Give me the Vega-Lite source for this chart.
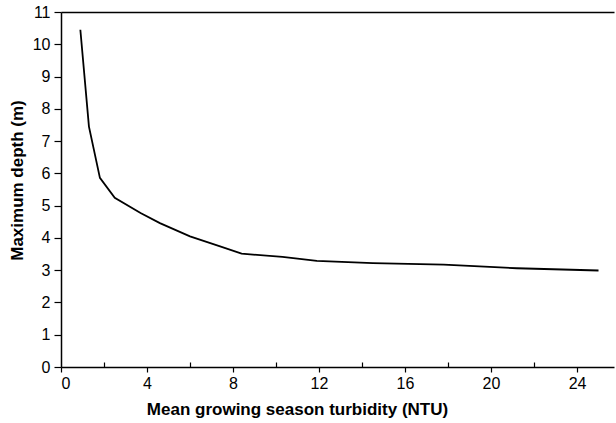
{
  "$schema": "https://vega.github.io/schema/vega-lite/v6.json",
  "autosize": "none",
  "width": 553,
  "height": 355,
  "padding": {"left": 61, "top": 12, "right": 2, "bottom": 56},
  "background": "white",
  "config": {
    "view": {"stroke": null},
    "font": "Liberation Sans",
    "axis": {"grid": false, "domainColor": "black", "domainWidth": 1.5, "tickColor": "black", "tickWidth": 1.2, "labelColor": "black", "titleColor": "black", "labelFont": "Liberation Sans", "titleFont": "Liberation Sans", "labelOverlap": false, "labelFontSize": 16, "titleFontSize": 17, "titleFontWeight": "bold"}
  },
  "data": {
    "values": [
      {"turbidity": 0.9, "depth": 10.45},
      {"turbidity": 1.3, "depth": 7.45},
      {"turbidity": 1.81, "depth": 5.86},
      {"turbidity": 2.5, "depth": 5.24},
      {"turbidity": 3.7, "depth": 4.77},
      {"turbidity": 4.6, "depth": 4.46},
      {"turbidity": 6.0, "depth": 4.05},
      {"turbidity": 7.4, "depth": 3.74},
      {"turbidity": 8.4, "depth": 3.51},
      {"turbidity": 10.3, "depth": 3.41},
      {"turbidity": 11.9, "depth": 3.29},
      {"turbidity": 14.5, "depth": 3.22},
      {"turbidity": 17.8, "depth": 3.17},
      {"turbidity": 21.2, "depth": 3.06},
      {"turbidity": 25.0, "depth": 2.99}
    ]
  },
  "resolve": {"axis": {"x": "independent"}},
  "layer": [
    {
      "mark": {"type": "line", "color": "black", "strokeWidth": 1.8},
      "encoding": {
        "x": {
          "field": "turbidity", "type": "quantitative",
          "scale": {"domain": [0, 25.72], "nice": false, "zero": false},
          "axis": {
            "orient": "bottom",
            "title": "Mean growing season turbidity (NTU)",
            "titlePadding": 10,
            "titleX": 236,
            "values": [0, 2, 4, 6, 8, 10, 12, 14, 16, 18, 20, 22, 24],
            "labelExpr": "datum.value % 4 === 0 ? datum.label : ''",
            "labelFontSize": 16, "labelPadding": 3,
            "tickSize": {"condition": {"test": "datum.value % 4 === 0", "value": 5}, "value": -5}
          }
        },
        "y": {
          "field": "depth", "type": "quantitative",
          "scale": {"domain": [0, 11], "nice": false},
          "axis": {
            "title": "Maximum depth (m)",
            "titlePadding": 6,
            "titleY": 168,
            "values": [0, 1, 2, 3, 4, 5, 6, 7, 8, 9, 10, 11],
            "labelFontSize": 16, "labelPadding": 4, "tickSize": 7, "labelOverlap": false
          }
        }
      }
    },
    {
      "mark": {"type": "line", "strokeOpacity": 0},
      "encoding": {
        "x": {
          "field": "turbidity", "type": "quantitative",
          "axis": {"orient": "top", "labels": false, "ticks": false, "title": null, "domain": true, "domainWidth": 1.6}
        },
        "y": {
          "field": "depth", "type": "quantitative",
          "axis": {
            "title": "Maximum depth (m)",
            "titlePadding": 6,
            "titleY": 168,
            "values": [0, 1, 2, 3, 4, 5, 6, 7, 8, 9, 10, 11],
            "labelFontSize": 16, "labelPadding": 4, "tickSize": 7, "labelOverlap": false
          }
        }
      }
    }
  ]
}
